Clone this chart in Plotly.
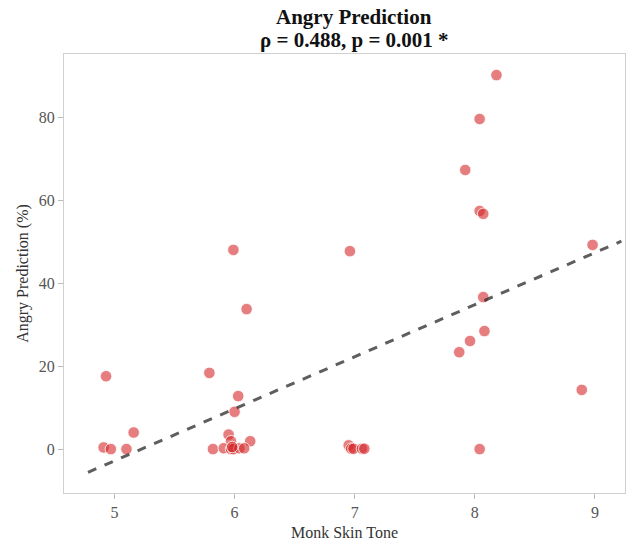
import plotly.graph_objects as go

# Monk skin tone (x) vs angry prediction % (y)
skin_tone = [8.18, 8.04, 7.92, 8.04, 8.07, 8.98, 5.99, 6.96, 8.07, 6.10,
             8.08, 7.96, 7.87, 4.93, 5.79, 6.03, 6.00, 5.16, 8.89, 5.95,
             5.97, 6.13, 4.91, 4.97, 5.10, 5.82, 5.91, 5.97, 5.99, 6.04,
             6.08, 6.95, 6.97, 6.99, 7.06, 7.08, 8.04, 5.98]
angry_pct = [90.3, 79.7, 67.4, 57.5, 56.8, 49.3, 48.1, 47.8, 36.7, 33.8,
             28.5, 26.1, 23.4, 17.6, 18.4, 12.8, 9.0, 4.0, 14.3, 3.5,
             1.9, 1.9, 0.4, 0.0, 0.0, 0.0, 0.2, 0.0, 0.0, 0.2,
             0.2, 0.9, 0.1, 0.1, 0.1, 0.1, 0.0, 0.5]

# Regression line
fit_x = [4.78, 9.22]
fit_y = [-5.6, 50.2]

x_ticks = [5, 6, 7, 8, 9]
y_ticks = [0, 20, 40, 60, 80]

title_line1 = "Angry Prediction"
title_line2 = "ρ = 0.488, p = 0.001 *"

font_family = "Liberation Serif, Times New Roman, serif"

fig = go.Figure()
fig.add_trace(go.Scatter(
    x=skin_tone, y=angry_pct, mode="markers",
    marker=dict(size=11.5, color="rgba(214,39,40,0.6)",
                line=dict(color="white", width=0.8)),
    showlegend=False,
))
fig.add_trace(go.Scatter(
    x=fit_x, y=fit_y, mode="lines",
    line=dict(color="rgba(40,40,40,0.75)", width=3, dash="dash"),
    showlegend=False,
))

title_font = dict(family=font_family, size=21, color="#111")
fig.add_annotation(text=f"<b>{title_line1}</b>", xref="paper", yref="paper",
                   x=0.517, y=1.085, xanchor="center", yanchor="middle",
                   showarrow=False, font=title_font, borderpad=0)
fig.add_annotation(text=f"<b>{title_line2}</b>", xref="paper", yref="paper",
                   x=0.517, y=1.032, xanchor="center", yanchor="middle",
                   showarrow=False, font=title_font, borderpad=0)

fig.update_layout(
    width=637, height=544,
    margin=dict(l=64, r=12, t=54, b=51, autoexpand=False),
    plot_bgcolor="white", paper_bgcolor="white",
    font=dict(family=font_family, size=15, color="#333"),
    xaxis=dict(
        range=[4.58, 9.25], tickvals=x_ticks, ticks="outside", ticklen=5,
        tickcolor="#bbb", showgrid=False, zeroline=False, automargin=False,
        showline=True, linecolor="#d0d0d0", linewidth=1.2, mirror=True,
        title=dict(text="Monk Skin Tone", standoff=6,
                   font=dict(family=font_family, size=16, color="#333")),
        tickfont=dict(size=16, color="#555"),
    ),
    yaxis=dict(
        range=[-10.6, 95.4], tickvals=y_ticks, ticks="outside", ticklen=5,
        tickcolor="#bbb", showgrid=False, zeroline=False, automargin=False,
        showline=True, linecolor="#d0d0d0", linewidth=1.2, mirror=True,
        title=dict(text="Angry Prediction (%)", standoff=6,
                   font=dict(family=font_family, size=16, color="#333")),
        tickfont=dict(size=16, color="#555"),
    ),
)

# remove the default page margin so the figure fills the 637x544 window
fig.write_html("out.html",
               config={"displayModeBar": False},
               post_script="document.body.style.margin='0';"
                           "document.body.style.overflow='hidden';")
